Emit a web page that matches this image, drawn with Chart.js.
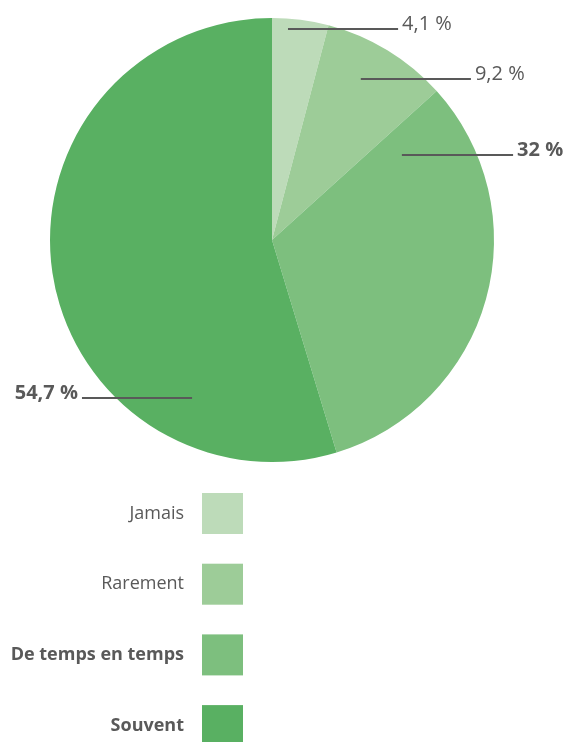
<!DOCTYPE html>
<html>
<head>
<meta charset="utf-8">
<script src="https://cdn.jsdelivr.net/npm/chart.js@4"></script>
<style>
  html, body { margin:0; padding:0; background:#fff; }
  #wrap { position:relative; width:566px; height:742px; }
</style>
</head>
<body>
<div id="wrap"><canvas id="pie"></canvas></div>
<script>
const categories = ["Jamais", "Rarement", "De temps en temps", "Souvent"];
const values = [4.1, 9.2, 32, 54.7];
const valueLabels = ["4,1 %", "9,2 %", "32 %", "54,7 %"];
const boldLabel = [false, false, true, true];
const colors = ["#bddbb9", "#9dcc98", "#7dbf7e", "#59b062"];

const TXT = "#595959";
const FONT = "'Open Sans', sans-serif";

// leader line placement, as offsets from the pie centre in units of radius
const leaders = [
  { sx: 0.072, sy: -0.95, ex: 0.568, side: "right" },
  { sx: 0.40, sy: -0.725, ex: 0.896, side: "right" },
  { sx: 0.585, sy: -0.383, ex: 1.086, side: "right" },
  { sx: -0.36, sy: 0.712, ex: -0.856, side: "left" }
];

const labelPlugin = {
  id: "labelPlugin",
  afterDraw(chart){
    const ctx = chart.ctx;
    const arc = chart.getDatasetMeta(0).data[0];
    const cx = arc.x, cy = arc.y, r = arc.outerRadius;
    ctx.save();
    leaders.forEach((l, i)=>{
      const y = cy + l.sy * r;
      ctx.strokeStyle = TXT;
      ctx.lineWidth = 2;
      ctx.beginPath();
      ctx.moveTo(cx + l.sx * r, y);
      ctx.lineTo(cx + l.ex * r, y);
      ctx.stroke();
      ctx.fillStyle = TXT;
      ctx.font = (boldLabel[i] ? "bold " : "") + "20px " + FONT;
      ctx.textBaseline = "alphabetic";
      if(l.side === "right"){
        ctx.textAlign = "left";
        ctx.fillText(valueLabels[i], cx + l.ex * r + 4, y + 1);
      } else {
        ctx.textAlign = "right";
        ctx.fillText(valueLabels[i], cx + l.ex * r - 4, y + 1);
      }
    });

    // legend below the pie
    const boxX = 202, box = 41, top0 = 493, step = 70.7;
    categories.forEach((c, i)=>{
      const top = top0 + i * step;
      ctx.fillStyle = colors[i];
      ctx.fillRect(boxX, top, box, box);
      ctx.fillStyle = TXT;
      ctx.font = (boldLabel[i] ? "bold " : "") + "18px " + FONT;
      ctx.textAlign = "right";
      ctx.textBaseline = "middle";
      ctx.fillText(c, 184, top + box / 2);
    });
    ctx.restore();
  }
};

new Chart(document.getElementById("pie"), {
  type: "pie",
  data: {
    labels: categories,
    datasets: [{ data: values, backgroundColor: colors, borderWidth: 0 }]
  },
  options: {
    responsive: true,
    maintainAspectRatio: false,
    animation: false,
    layout: { padding: { left: 50, right: 72, top: 18, bottom: 280 } },
    plugins: { legend: { display: false }, tooltip: { enabled: false } }
  },
  plugins: [labelPlugin]
});
</script>
</body>
</html>
